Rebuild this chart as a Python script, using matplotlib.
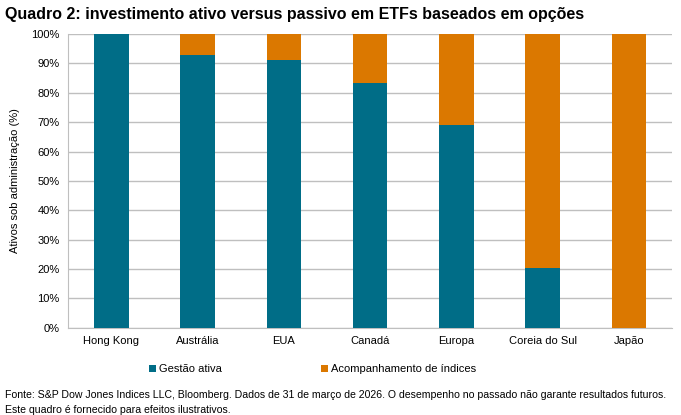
import numpy as np
import matplotlib.pyplot as plt

plt.rcParams['font.family'] = ['Liberation Sans', 'DejaVu Sans']

# Dados
regioes = ['Hong Kong', 'Austrália', 'EUA', 'Canadá', 'Europa', 'Coreia do Sul', 'Japão']
gestao_ativa = np.array([100.0, 93.0, 91.0, 83.5, 69.0, 20.5, 0.0])
acompanhamento = 100.0 - gestao_ativa
yticks = [0, 10, 20, 30, 40, 50, 60, 70, 80, 90, 100]

cor_ativa = '#006D87'
cor_passiva = '#DB7800'
cor_grade = '#BFBFBF'

fig = plt.figure(figsize=(6.81, 4.15), dpi=100)
ax = fig.add_axes([0.1, 0.21, 0.887, 0.708])

x = np.arange(len(regioes))
ax.bar(x, gestao_ativa, width=0.4, color=cor_ativa, label='Gestão ativa', zorder=3)
ax.bar(x, acompanhamento, width=0.4, bottom=gestao_ativa, color=cor_passiva,
       label='Acompanhamento de índices', zorder=3)

ax.set_xlim(-0.5, len(regioes) - 0.5)
ax.set_ylim(0, 100)
ax.set_yticks(yticks)
ax.set_yticklabels([f'{v}%' for v in yticks], fontsize=8)
ax.set_xticks(x)
ax.set_xticklabels(regioes, fontsize=8)
ax.tick_params(axis='both', length=0, pad=6)
ax.yaxis.grid(True, color=cor_grade, linewidth=1, zorder=0)
for s in ['top', 'right']:
    ax.spines[s].set_visible(False)
ax.spines['left'].set_color(cor_grade)
ax.spines['bottom'].set_color(cor_grade)
ax.set_ylabel('Ativos sob administração (%)', fontsize=8, labelpad=8)

fig.text(0.008, 0.965, 'Quadro 2: investimento ativo versus passivo em ETFs baseados em opções',
         fontsize=11.5, fontweight='bold', va='center')

ax.legend(loc='upper left', bbox_to_anchor=(0.118, -0.09), ncol=2, frameon=False,
          fontsize=8, handlelength=0.6, handleheight=0.6, handletextpad=0.3,
          columnspacing=8.9)

fig.text(0.008, 0.047, 'Fonte: S&P Dow Jones Indices LLC, Bloomberg. Dados de 31 de março de 2026. '
         'O desempenho no passado não garante resultados futuros.', fontsize=7.6, va='center')
fig.text(0.008, 0.013, 'Este quadro é fornecido para efeitos ilustrativos.', fontsize=7.6, va='center')

fig.savefig('out.png', dpi=100)
